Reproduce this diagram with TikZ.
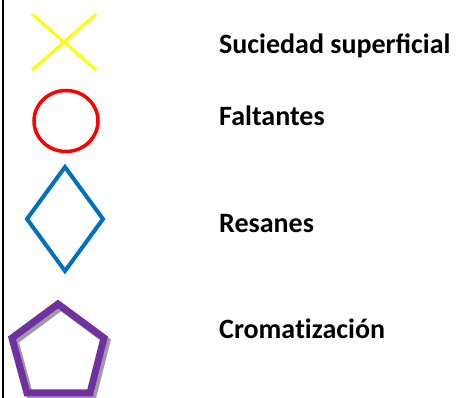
\documentclass[tikz,border=0pt]{standalone}
\usepackage{fontspec}
\setmainfont{Carlito}
\definecolor{xyellow}{HTML}{FFFF00}
\definecolor{ored}{HTML}{FF0000}
\definecolor{dblue}{HTML}{0070C0}
\definecolor{ppurple}{HTML}{7030A0}
\definecolor{pshadow}{HTML}{A09AA8}
\tikzset{
  lbl/.style={anchor=base west, inner sep=0pt, font=\fontsize{28}{32}\selectfont\bfseries},
}
\begin{document}
\begin{tikzpicture}[x=1pt,y=-1pt]
\useasboundingbox (0,0) rectangle (464,398);
\fill[white] (0,0) rectangle (464,398);
% left border
\draw[line width=2pt] (2.5,0) -- (2.5,398);
% cross
\draw[xyellow, line width=3pt] (32,14) -- (96,70);
\draw[xyellow, line width=3pt] (32,70) -- (96,14);
% circle
\draw[ored, line width=3.5pt] (66,121) ellipse [x radius=32, y radius=30.5];
% diamond
\draw[dblue, line width=4pt, line join=miter] (65,167) -- (103,219) -- (65,271) -- (27,219) -- cycle;
% pentagon with shadow
\draw[pshadow, line width=7pt, line join=miter] ([shift={(3,3)}]58,304) -- ([shift={(3,3)}]104,338) -- ([shift={(3,3)}]90,393) -- ([shift={(3,3)}]27,393) -- ([shift={(3,3)}]12,338) -- cycle;
\draw[ppurple, line width=7pt, line join=miter] (58,304) -- (104,338) -- (90,393) -- (27,393) -- (12,338) -- cycle;
% labels
\node[lbl] (t1) at (219,53.5) {Suciedad superficial};
\node[lbl] (t2) at (219,126) {Faltantes};
\node[lbl] (t3) at (219,232.5) {Resanes};
\node[lbl] (t4) at (219,339) {Croma\kern0ptt\kern0ptización};
\end{tikzpicture}
\end{document}
